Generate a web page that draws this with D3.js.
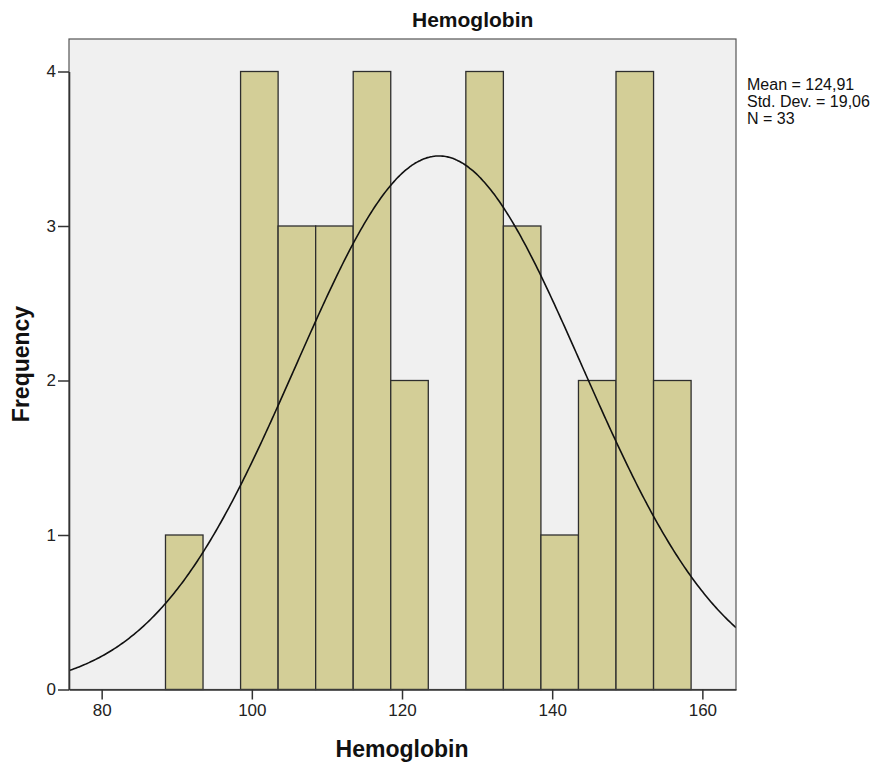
<!DOCTYPE html>
<html>
<head>
<meta charset="utf-8">
<script src="https://cdn.jsdelivr.net/npm/d3@7/dist/d3.min.js"></script>
<style>
  html, body { margin: 0; padding: 0; background: #ffffff; }
  svg { display: block; font-family: "Liberation Sans", Arial, sans-serif; }
</style>
</head>
<body>
<svg id="chart" width="882" height="768"></svg>
<script>
// Histogram bins (lower edge) and frequencies
const binStarts = [88.5, 93.5, 98.5, 103.5, 108.5, 113.5, 118.5, 123.5, 128.5, 133.5, 138.5, 143.5, 148.5, 153.5];
const binWidth = 5;
const frequencies = [1, 0, 4, 3, 3, 4, 2, 0, 4, 3, 1, 2, 4, 2];

// Summary statistics shown beside the plot
const mean = 124.91;
const stdDev = 19.06;
const n = 33;

// Axis ticks
const xTicks = [80, 100, 120, 140, 160];
const yTicks = [0, 1, 2, 3, 4];

const svg = d3.select("#chart");
const plotLeft = 69, plotRight = 736, plotTop = 39, plotBottom = 689.5;

const x = d3.scaleLinear().domain([75.65, 164.48]).range([plotLeft, plotRight]);
const y = d3.scaleLinear().domain([0, 4]).range([plotBottom, 71.5]);

// Plot background
svg.append("rect")
  .attr("x", plotLeft).attr("y", plotTop)
  .attr("width", plotRight - plotLeft).attr("height", plotBottom - plotTop)
  .attr("fill", "#f0f0f0");

svg.append("clipPath").attr("id", "plotClip")
  .append("rect")
  .attr("x", plotLeft).attr("y", plotTop)
  .attr("width", plotRight - plotLeft).attr("height", plotBottom - plotTop);

// Bars
const bins = binStarts.map((s, i) => ({ x0: s, x1: s + binWidth, f: frequencies[i] }))
  .filter(d => d.f > 0);

svg.append("g")
  .selectAll("rect")
  .data(bins)
  .join("rect")
  .attr("x", d => x(d.x0))
  .attr("y", d => y(d.f))
  .attr("width", d => x(d.x1) - x(d.x0))
  .attr("height", d => y(0) - y(d.f))
  .attr("fill", "#d3ce97")
  .attr("stroke", "#2e2e2e")
  .attr("stroke-width", 1.3);

// Normal curve scaled to counts: N * binWidth * pdf
const pdf = v => Math.exp(-0.5 * ((v - mean) / stdDev) ** 2) / (stdDev * Math.sqrt(2 * Math.PI));
const curvePts = d3.range(0, 401).map(i => {
  const v = x.domain()[0] + (x.domain()[1] - x.domain()[0]) * i / 400;
  return [v, n * binWidth * pdf(v)];
});
svg.append("path")
  .datum(curvePts)
  .attr("clip-path", "url(#plotClip)")
  .attr("fill", "none")
  .attr("stroke", "#111")
  .attr("stroke-width", 1.6)
  .attr("d", d3.line().x(d => x(d[0])).y(d => y(d[1])).curve(d3.curveBasis));

// Plot border
svg.append("rect")
  .attr("x", plotLeft).attr("y", plotTop)
  .attr("width", plotRight - plotLeft).attr("height", plotBottom - plotTop)
  .attr("fill", "none")
  .attr("stroke", "#555")
  .attr("stroke-width", 1.2);

// Axes
const xAxis = svg.append("g")
  .attr("transform", `translate(0,${plotBottom})`)
  .call(d3.axisBottom(x).tickValues(xTicks).tickSize(10).tickSizeOuter(0).tickPadding(4).tickFormat(d3.format("d")));
const yAxis = svg.append("g")
  .attr("transform", `translate(${plotLeft},0)`)
  .call(d3.axisLeft(y).tickValues(yTicks).tickSize(11).tickSizeOuter(0).tickPadding(2).tickFormat(d3.format("d")));

[xAxis, yAxis].forEach(g => {
  g.select(".domain").attr("stroke", "#333").attr("stroke-width", 1.6);
  g.selectAll(".tick line").attr("stroke", "#333").attr("stroke-width", 1.5);
  g.selectAll(".tick text")
    .attr("fill", "#222")
    .style("font-family", "'Liberation Sans', Arial, sans-serif")
    .style("font-size", "17px");
});

// Title and axis labels
svg.append("text")
  .attr("x", 412).attr("y", 27)
  .attr("text-anchor", "start")
  .style("font-size", "21px").style("font-weight", "bold")
  .attr("fill", "#111")
  .text("Hemoglobin");

svg.append("text")
  .attr("x", 402).attr("y", 757)
  .attr("text-anchor", "middle")
  .style("font-size", "23px").style("font-weight", "bold")
  .attr("fill", "#111")
  .text("Hemoglobin");

svg.append("text")
  .attr("transform", "translate(28.5,364) rotate(-90)")
  .attr("text-anchor", "middle")
  .style("font-size", "23px").style("font-weight", "bold")
  .attr("fill", "#111")
  .text("Frequency");

// Statistics legend
const statLines = [
  `Mean = ${mean.toFixed(2).replace(".", ",")}`,
  `Std. Dev. = ${stdDev.toFixed(2).replace(".", ",")}`,
  `N = ${n}`
];
svg.append("g")
  .selectAll("text")
  .data(statLines)
  .join("text")
  .attr("x", 747)
  .attr("y", (d, i) => 90 + i * 17)
  .style("font-size", "16px")
  .attr("fill", "#111")
  .text(d => d);
</script>
</body>
</html>
